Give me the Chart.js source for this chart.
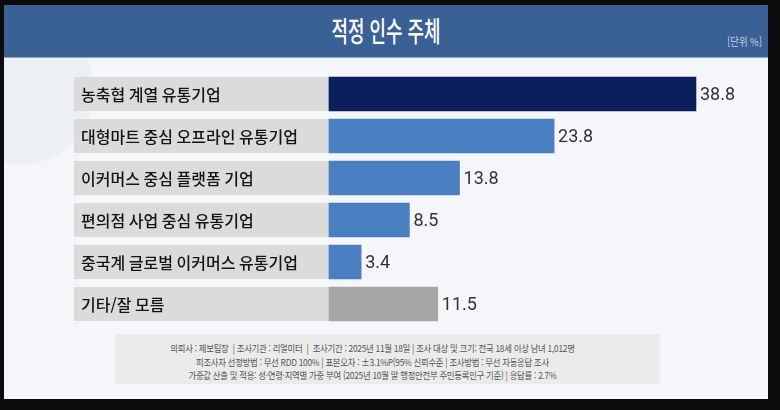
<!DOCTYPE html>
<html lang="ko">
<head>
<meta charset="utf-8">
<title>적정 인수 주체</title>
<script src="https://cdn.jsdelivr.net/npm/chart.js@4"></script>
<style>
  html, body { margin: 0; padding: 0; }
  body {
    width: 780px; height: 410px; background: #0b0b0b;
    position: relative; overflow: hidden;
    font-family: "Noto Sans CJK KR", "Noto Sans", sans-serif;
  }
  .panel {
    position: absolute; left: 4px; top: 5px; width: 764px; height: 394px;
    background: #f4f6f9; overflow: hidden;
  }
  .deco {
    position: absolute; left: -60px; top: 10px; width: 150px; height: 150px;
    border-radius: 50%; background: rgba(228, 233, 240, 0.5);
  }
  .banner {
    position: absolute; left: 0; top: 0; width: 764px; height: 52px;
    background: #3a6195; border-bottom: 1px solid #8fa8c8;
  }
  .title {
    position: absolute; left: 0; width: 764px; top: 5px; text-align: center;
    color: #fff; font-size: 28px; font-weight: 500; line-height: 40px;
    transform: scaleX(0.64); transform-origin: 382px 0;
  }
  .unit {
    position: absolute; right: 6px; top: 28px; color: #c9d3e1;
    font-size: 11px; transform: scaleX(0.85); transform-origin: right top;
  }
  .footer {
    position: absolute; left: 111px; top: 329px; width: 545px; height: 50px;
    background: #ebebeb;
  }
  .footer .lines {
    padding-top: 8px; transform: translateX(-15px) scaleX(0.88); transform-origin: 272px 0;
  }
  .footer p {
    margin: 0; text-align: center; color: #555; font-size: 9.5px; line-height: 13.5px;
    letter-spacing: -0.3px; white-space: nowrap;
  }
  #wrap { position: absolute; left: 0; top: 0; width: 780px; height: 410px; }
</style>
</head>
<body>
<div class="panel">
  <div class="deco"></div>
  <div class="banner"></div>
  <div class="title">적정 인수 주체</div>
  <div class="unit">[단위 %]</div>
  <div class="footer"><div class="lines">
    <p>의뢰사 : 제보팀장 &nbsp;| 조사기관 : 리얼미터 &nbsp;| &nbsp;조사기간 : 2025년 11월 18일 | 조사 대상 및 크기: 전국 18세 이상 남녀 1,012명</p>
    <p>피조사자 선정방법 : 무선 RDD 100% | 표본오차 : ±3.1%P(95% 신뢰수준 | 조사방법 : 무선 자동응답 조사</p>
    <p>가중값 산출 및 적용: 성·연령·지역별 가중 부여 (2025년 10월 말 행정안전부 주민등록인구 기준) | 응답률 : 2.7%</p>
  </div></div>
</div>
<div id="wrap"><canvas id="chart"></canvas></div>

<script>
// data
const categories = [
  '농축협 계열 유통기업',
  '대형마트 중심 오프라인 유통기업',
  '이커머스 중심 플랫폼 기업',
  '편의점 사업 중심 유통기업',
  '중국계 글로벌 이커머스 유통기업',
  '기타/잘 모름'
];
const values = [38.8, 23.8, 13.8, 8.5, 3.4, 11.5];

// colours: first bar highlighted, last (기타) grey
const barColors = values.map((v, i) =>
  i === 0 ? '#0b1f5c' : (i === values.length - 1 ? '#a6a6a6' : '#4a7fc1'));

// label boxes on the left + category text + value labels
const rowLabels = {
  id: 'rowLabels',
  beforeDatasetsDraw(chart) {
    const { ctx, chartArea, scales: { x } } = chart;
    const meta = chart.getDatasetMeta(0);
    const zeroX = x.getPixelForValue(0);
    ctx.save();
    meta.data.forEach((bar, i) => {
      const h = bar.height;
      ctx.fillStyle = '#dbdbdb';
      ctx.fillRect(chartArea.left, bar.y - h / 2, zeroX - chartArea.left, h);
      ctx.fillStyle = '#141414';
      ctx.font = '500 16px "Noto Sans CJK KR", sans-serif';
      ctx.textBaseline = 'middle';
      ctx.textAlign = 'left';
      ctx.fillText(categories[i], chartArea.left + 7, bar.y + 1);
    });
    ctx.restore();
  },
  afterDatasetsDraw(chart) {
    const { ctx } = chart;
    const meta = chart.getDatasetMeta(0);
    ctx.save();
    ctx.fillStyle = '#333';
    ctx.font = '18px Roboto, sans-serif';
    ctx.textBaseline = 'middle';
    meta.data.forEach((bar, i) => {
      ctx.fillText(values[i].toFixed(1), bar.x + 4, bar.y + 1);
    });
    ctx.restore();
  }
};

new Chart(document.getElementById('chart'), {
  type: 'bar',
  data: {
    labels: categories,
    datasets: [{
      data: values,
      backgroundColor: barColors,
      borderWidth: 0,
      barThickness: 34,
      base: 0
    }]
  },
  options: {
    indexAxis: 'y',
    responsive: true,
    maintainAspectRatio: false,
    animation: false,
    layout: { padding: { left: 74, right: 20, top: 73, bottom: 85 } },
    plugins: { legend: { display: false }, tooltip: { enabled: false } },
    scales: {
      x: { display: false, min: -26.96, max: 45.57 },
      y: { display: false }
    }
  },
  plugins: [rowLabels]
});
</script>
</body>
</html>
